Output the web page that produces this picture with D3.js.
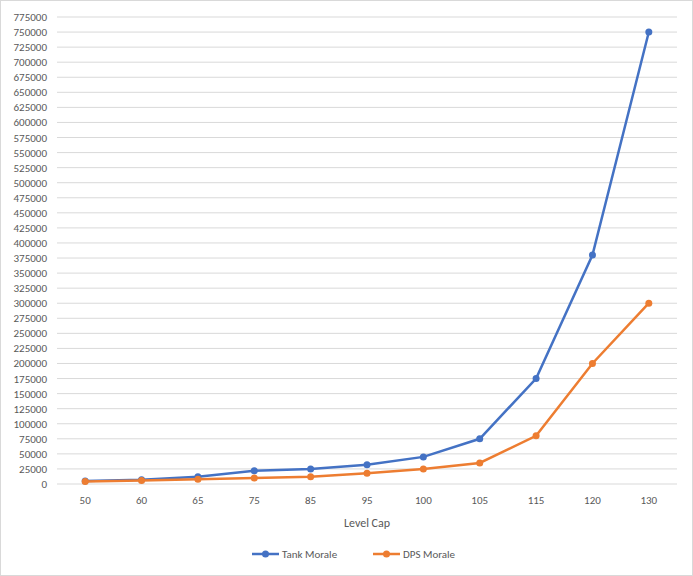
<!DOCTYPE html><html><head><meta charset="utf-8"><script src="https://cdn.jsdelivr.net/npm/d3@7"></script>
<style>body{margin:0;background:#fff}text{font-family:Calibri,Carlito,"Liberation Sans",sans-serif;fill:#595959}</style></head><body><svg id="c" width="693" height="576"></svg><script>
const categories=["50","60","65","75","85","95","100","105","115","120","130"];
const tank=[5000,7000,12000,22000,25000,32000,45000,75000,175000,380000,750000];
const dps=[4000,6000,8000,10000,12000,18000,25000,35000,80000,200000,300000];
const seriesNames=["Tank Morale","DPS Morale"];
const colors=["#4472C4","#ED7D31"];
const svg=d3.select("#c");
svg.append("rect").attr("x",0.5).attr("y",0.5).attr("width",692).attr("height",575).attr("fill","#fff").attr("stroke","#d9d9d9");
const L=57,R=677,T=17,B=484;
const x=d3.scaleBand().domain(categories).range([L,R]);
const y=d3.scaleLinear().domain([0,775000]).range([B,T]);
const ticks=d3.range(0,775001,25000);
svg.append("g").selectAll("line").data(ticks).join("line").attr("x1",L).attr("x2",R).attr("y1",d=>y(d)).attr("y2",d=>y(d)).attr("stroke","#d9d9d9");
svg.append("g").selectAll("text").data(ticks).join("text").attr("x",L-10).attr("y",d=>y(d)+4).attr("text-anchor","end").attr("font-size",11).text(d=>d);
svg.append("g").selectAll("text").data(categories).join("text").attr("x",d=>x(d)+x.bandwidth()/2).attr("y",B+20).attr("text-anchor","middle").attr("font-size",11).text(d=>d);
svg.append("text").attr("x",(L+R)/2).attr("y",527).attr("text-anchor","middle").attr("font-size",12).text("Level Cap");
[tank,dps].forEach((s,i)=>{
 const line=d3.line().x((d,j)=>x(categories[j])+x.bandwidth()/2).y(d=>y(d));
 svg.append("path").datum(s).attr("d",line).attr("fill","none").attr("stroke",colors[i]).attr("stroke-width",2.5);
 svg.append("g").selectAll("circle").data(s).join("circle").attr("cx",(d,j)=>x(categories[j])+x.bandwidth()/2).attr("cy",d=>y(d)).attr("r",3.5).attr("fill",colors[i]);
});
const lx=[252,373];
seriesNames.forEach((n,i)=>{
 svg.append("line").attr("x1",lx[i]).attr("x2",lx[i]+27).attr("y1",554).attr("y2",554).attr("stroke",colors[i]).attr("stroke-width",2.5);
 svg.append("circle").attr("cx",lx[i]+13.5).attr("cy",554).attr("r",3.5).attr("fill",colors[i]);
 svg.append("text").attr("x",lx[i]+30).attr("y",558).attr("font-size",11).text(n);
});
</script></body></html>
